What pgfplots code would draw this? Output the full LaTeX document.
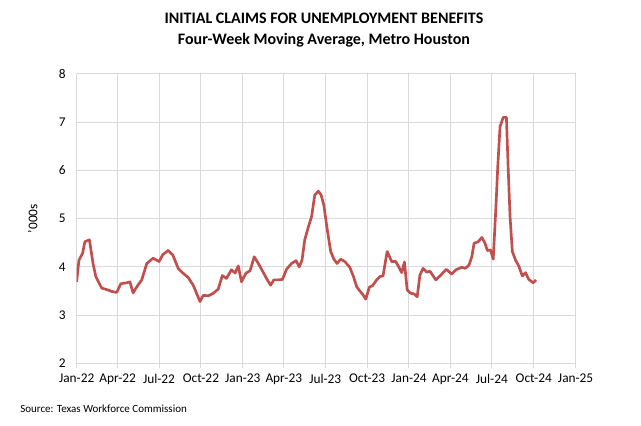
\documentclass[border=0pt]{standalone}
\usepackage{fontspec}
\setmainfont{Carlito}
\usepackage{pgfplots}
\pgfplotsset{compat=1.18}
\definecolor{claims}{HTML}{C0504D}
\definecolor{gridgray}{HTML}{D9D9D9}

% days since 1 Jan 2022, thousands of claims
\pgfplotstableread{
day val
0 3.69
5 4.14
13 4.28
18 4.52
28 4.56
36 4.07
42 3.80
55 3.56
69 3.52
77 3.49
88 3.47
97 3.65
110 3.67
117 3.69
124 3.46
133 3.60
143 3.73
154 4.07
168 4.18
181 4.11
189 4.25
201 4.34
211 4.25
223 3.97
231 3.89
245 3.78
256 3.62
271 3.28
278 3.41
289 3.40
300 3.45
311 3.54
320 3.82
329 3.76
340 3.94
348 3.87
355 4.02
362 3.69
372 3.87
381 3.92
390 4.21
399 4.07
409 3.90
417 3.76
426 3.62
433 3.73
443 3.73
452 3.74
461 3.95
472 4.07
482 4.13
489 4.00
495 4.14
501 4.56
509 4.83
516 5.04
523 5.49
531 5.57
537 5.49
543 5.28
550 4.80
558 4.32
565 4.16
572 4.07
580 4.16
589 4.11
600 3.99
608 3.80
615 3.59
622 3.50
629 3.42
635 3.33
643 3.58
650 3.61
659 3.73
666 3.80
673 3.81
682 4.32
692 4.11
701 4.11
708 3.99
714 3.88
720 4.10
726 3.52
734 3.45
741 3.44
748 3.38
754 3.83
761 3.97
769 3.89
776 3.91
789 3.73
800 3.83
812 3.95
824 3.85
833 3.94
846 3.99
854 3.97
862 4.04
868 4.21
873 4.49
882 4.52
890 4.61
897 4.49
902 4.34
909 4.35
915 4.16
921 5.25
925 6.08
930 6.91
937 7.10
944 7.10
948 6.01
952 5.04
957 4.32
964 4.14
971 4.02
979 3.81
986 3.88
993 3.74
1003 3.67
1009 3.73
}\claimsdata

\begin{document}
\begin{tikzpicture}
\useasboundingbox (-57.5pt,-46.3pt) rectangle (423.3pt,272.5pt);
\begin{axis}[
  at={(0,0)}, anchor=south west,
  scale only axis,
  width=374.25pt, height=217pt,
  xmin=0, xmax=1096,
  ymin=2, ymax=8,
  xtick={0,90,181,273,365,455,546,638,730,821,912,1004,1096},
  xticklabels={Jan-22,Apr-22,Jul-22,Oct-22,Jan-23,Apr-23,Jul-23,Oct-23,Jan-24,Apr-24,Jul-24,Oct-24,Jan-25},
  ytick={2,3,4,5,6,7,8},
  grid=major,
  grid style={gridgray, line width=0.75pt},
  axis line style={gridgray, line width=0.75pt},
  axis x line*=bottom,
  axis y line*=left,
  tick align=outside,
  xtick style={gridgray, line width=0.75pt},
  major tick length=3.75pt,
  ytick style={draw=none},
  tick label style={font=\fontsize{10}{12}\selectfont, text=black},
  /pgf/number format/assume math mode=true,
  xticklabel style={yshift=-1pt},
  yticklabel style={xshift=-1pt},
]
\addplot[claims, line width=2pt, line join=round] table[x=day, y=val] {\claimsdata};
\end{axis}
\node[font=\bfseries\fontsize{12}{14}\selectfont] at (185.5pt,259pt) {INITIAL CLAIMS FOR UNEMPLOYMENT BENEFITS};
\node[font=\bfseries\fontsize{12}{14}\selectfont] at (185.5pt,242.5pt) {Four-Week Moving Average, Metro Houston};
\node[rotate=90, font=\fontsize{10}{12}\selectfont] at (-33pt,108.5pt) {'000s};
\node[anchor=west, inner sep=0pt, font=\fontsize{8.25}{10}\selectfont] at (-42.5pt,-34.3pt) {Source: Texas Workforce Commission};
\end{tikzpicture}
\end{document}
